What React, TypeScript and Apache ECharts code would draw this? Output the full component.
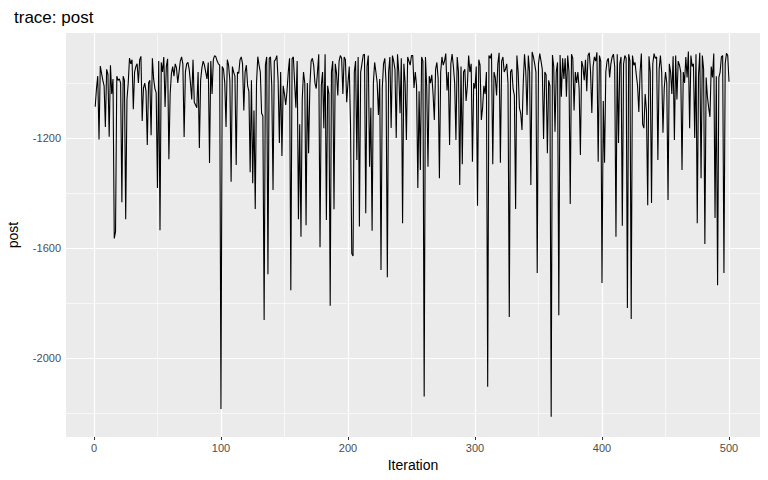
import { useEffect, useRef } from "react";
import * as echarts from "echarts";

const post: number[] = [
  -1086, -1020, -975, -1205, -938, -965, -990, -1010, -1160, -950,
  -968, -1195, -935, -1040, -985, -1565, -1540, -975, -990, -985,
  -1000, -1433, -975, -990, -1495, -1060, -1000, -909, -930, -915,
  -1095, -960, -940, -930, -1000, -915, -903, -1138, -1018, -1000,
  -1030, -1225, -1000, -990, -1190, -910, -985, -1020, -1035, -1382,
  -920, -1535, -925, -960, -905, -1087, -940, -912, -1277, -1040,
  -965, -940, -975, -930, -945, -1000, -960, -920, -905, -930,
  -1196, -960, -930, -925, -950, -1000, -1060, -915, -1070, -1080,
  -1090, -960, -1236, -990, -945, -920, -935, -960, -985, -925,
  -1291, -920, -1040, -915, -900, -905, -920, -930, -935, -2185,
  -940, -950, -1000, -1160, -915, -935, -990, -1359, -940, -960,
  -975, -1298, -960, -965, -915, -905, -930, -1100, -960, -935,
  -1010, -1030, -1324, -990, -1364, -1100, -1458, -1000, -904, -935,
  -960, -1110, -1120, -1862, -935, -905, -1695, -910, -905, -1010,
  -1389, -920, -915, -900, -990, -1218, -960, -1265, -1010, -1040,
  -1080, -1030, -960, -910, -1753, -912, -905, -1000, -1090, -920,
  -1495, -1150, -1559, -1060, -960, -1000, -1517, -1000, -1255, -1010,
  -920, -910, -935, -1000, -1020, -960, -895, -1597, -1010, -960,
  -1164, -895, -1498, -1010, -1040, -1810, -960, -920, -1459, -930,
  -965, -1045, -920, -900, -910, -1040, -905, -915, -1070, -1000,
  -940, -1150, -1620, -1629, -960, -920, -1280, -905, -1522, -960,
  -930, -898, -895, -1473, -940, -900, -1304, -1090, -1537, -1000,
  -925, -960, -1000, -1116, -985, -1680, -1020, -930, -910, -1000,
  -1706, -960, -905, -1163, -900, -920, -950, -1200, -895, -960,
  -1110, -910, -1510, -930, -1000, -1207, -905, -920, -935, -900,
  -900, -1018, -960, -1010, -1382, -1030, -1316, -905, -920, -2140,
  -905, -1015, -1304, -975, -1000, -970, -1040, -1134, -950, -925,
  -985, -1346, -960, -905, -935, -920, -893, -1027, -960, -1225,
  -930, -895, -940, -1000, -1207, -905, -960, -1371, -940, -1295,
  -960, -950, -1065, -1010, -900, -960, -930, -1286, -1000, -1020,
  -940, -1446, -915, -935, -1134, -1090, -1010, -1040, -960, -2104,
  -900, -910, -893, -1295, -960, -980, -1045, -930, -890, -1290,
  -920, -905, -960, -950, -930, -1000, -1851, -960, -950, -1020,
  -1045, -1458, -900, -960, -1090, -1110, -1171, -1000, -895, -960,
  -1116, -900, -960, -1371, -887, -905, -930, -960, -1691, -930,
  -893, -920, -950, -1203, -960, -970, -1255, -990, -1010, -2213,
  -898, -940, -1177, -960, -925, -1844, -898, -1050, -910, -985,
  -910, -1050, -900, -960, -1440, -895, -910, -1100, -960, -1000,
  -960, -1020, -1262, -920, -940, -990, -915, -1030, -900, -890,
  -960, -1109, -940, -905, -920, -888, -1286, -900, -920, -1727,
  -1065, -1290, -960, -920, -910, -980, -930, -905, -895, -940,
  -1559, -895, -1218, -930, -905, -1519, -930, -900, -910, -1818,
  -895, -920, -1858, -900, -935, -925, -970, -1010, -1105, -960,
  -893, -1150, -1164, -1040, -1100, -1444, -903, -960, -1436, -930,
  -893, -910, -905, -1280, -950, -900, -960, -1181, -1020, -960,
  -1000, -1425, -930, -960, -1040, -903, -1207, -900, -1060, -920,
  -935, -960, -1316, -960, -1000, -905, -980, -885, -1164, -900,
  -940, -930, -1200, -895, -1510, -970, -890, -1346, -900, -950,
  -1585, -980, -1050, -1090, -1123, -940, -980, -893, -1491, -975,
  -1735, -980, -960, -905, -900, -1691, -930, -892, -900, -995,
];

const iterations: number[] = post.map((_, i) => i + 1);

const xMajor = [0, 100, 200, 300, 400, 500];
const xMinor = [50, 150, 250, 350, 450];
const yMajor = [-2000, -1600, -1200];
const yMinor = [-2200, -1800, -1400, -1000];

const FONT = "Liberation Sans, Arial, sans-serif";

export default function App() {
  const ref = useRef<HTMLDivElement>(null);

  useEffect(() => {
    if (!ref.current) return;
    const chart = echarts.init(ref.current, undefined, { renderer: "svg" });

    const gridLine = (key: "xAxis" | "yAxis", vals: number[], width: number) =>
      vals.map((v) => ({ [key]: v, lineStyle: { color: "#FFFFFF", width, type: "solid" } }));

    chart.setOption({
      animation: false,
      backgroundColor: "#FFFFFF",
      title: {
        text: "trace: post",
        left: 9,
        top: 4,
        textStyle: { fontFamily: FONT, fontSize: 17, fontWeight: "normal", color: "#000000" },
      },
      grid: {
        left: 66,
        right: 8,
        top: 33,
        bottom: 43,
        show: true,
        backgroundColor: "#EBEBEB",
        borderWidth: 0,
        containLabel: false,
        outerBoundsMode: "none",
      },
      xAxis: {
        type: "value",
        min: -22,
        max: 524.4,
        name: "Iteration",
        nameLocation: "middle",
        nameGap: 21,
        nameTextStyle: { fontFamily: FONT, fontSize: 14, color: "#000000" },
        axisLine: { show: false },
        splitLine: { show: false },
        axisTick: {
          show: true,
          length: 3,
          lineStyle: { color: "#333333", width: 1 },
          customValues: xMajor,
        },
        axisLabel: {
          fontFamily: FONT,
          fontSize: 11,
          color: "#4D4D4D",
          margin: 5,
          customValues: xMajor,
          formatter: (v: number) => String(v),
        },
      },
      yAxis: {
        type: "value",
        min: -2287,
        max: -818,
        name: "post",
        nameLocation: "middle",
        nameRotate: 90,
        nameGap: 46,
        nameTextStyle: { fontFamily: FONT, fontSize: 14, color: "#000000" },
        axisLine: { show: false },
        splitLine: { show: false },
        axisTick: {
          show: true,
          length: 3,
          lineStyle: { color: "#333333", width: 1 },
          customValues: yMajor,
        },
        axisLabel: {
          fontFamily: FONT,
          fontSize: 11,
          color: "#4D4D4D",
          margin: 5,
          customValues: yMajor,
          formatter: (v: number) => String(v),
        },
      },
      series: [
        {
          type: "line",
          data: [],
          silent: true,
          markLine: {
            silent: true,
            symbol: ["none", "none"],
            label: { show: false },
            emphasis: { disabled: true },
            data: [
              ...gridLine("xAxis", xMinor, 0.6),
              ...gridLine("yAxis", yMinor, 0.6),
              ...gridLine("xAxis", xMajor, 1.2),
              ...gridLine("yAxis", yMajor, 1.2),
            ],
          },
        },
        {
          type: "line",
          z: 10,
          data: iterations.map((it, i) => [it, post[i]]),
          showSymbol: false,
          symbol: "none",
          lineStyle: { color: "#000000", width: 1.1 },
          silent: true,
        },
      ],
    });

    return () => chart.dispose();
  }, []);

  return (
    <div
      ref={ref}
      style={{ position: "fixed", left: 0, top: 0, width: 768, height: 480 }}
    />
  );
}
